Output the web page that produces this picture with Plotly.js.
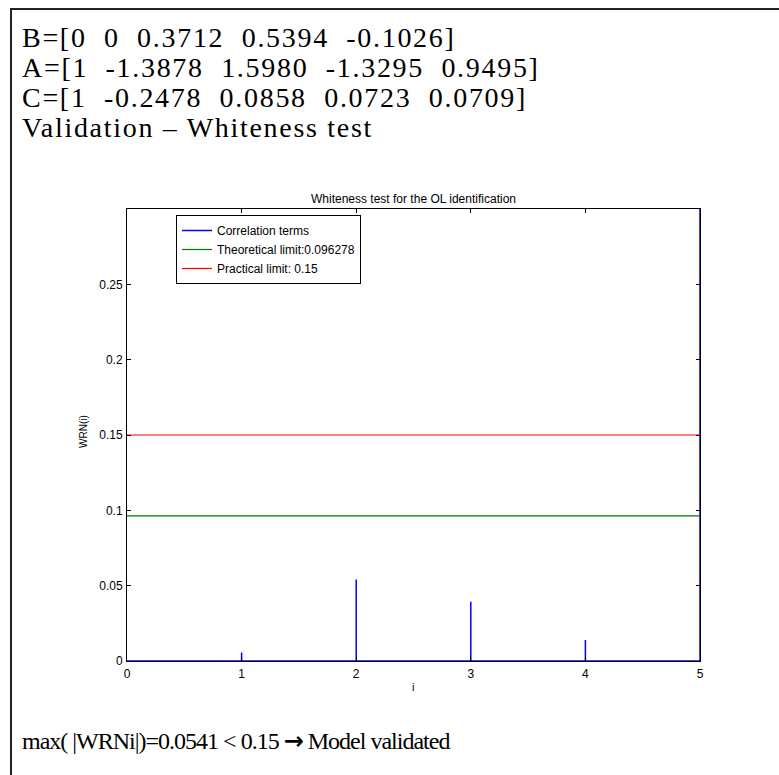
<!DOCTYPE html>
<html>
<head>
<meta charset="utf-8">
<script src="https://cdn.plot.ly/plotly-3.0.1.min.js"></script>
<style>
  html, body { margin: 0; padding: 0; background: #ffffff; }
  #chart { width: 779px; height: 775px; }
</style>
</head>
<body>
<div id="chart"></div>
<script>
// ---- data ----
const lags = [0, 1, 2, 3, 4, 5];
const wrn = [0, 0.0057, 0.0541, 0.0393, 0.0140, 1.0];
const theoreticalLimit = 0.096278;
const practicalLimit = 0.15;
const seriesNames = ["Correlation terms", "Theoretical limit:0.096278", "Practical limit: 0.15"];
const yTickVals = [0, 0.05, 0.1, 0.15, 0.2, 0.25];
const yTickText = ["0", "0.05", "0.1", "0.15", "0.2", "0.25"];
const xTickVals = [0, 1, 2, 3, 4, 5];
const headerLines = [
  "B=[0\u00a0\u00a00\u00a0\u00a00.3712\u00a0\u00a00.5394\u00a0\u00a0-0.1026]",
  "A=[1\u00a0\u00a0-1.3878\u00a0\u00a01.5980\u00a0\u00a0-1.3295\u00a0\u00a00.9495]",
  "C=[1\u00a0\u00a0-0.2478\u00a0\u00a00.0858\u00a0\u00a00.0723\u00a0\u00a00.0709]",
  "Validation \u2013 Whiteness test"
];
const footerParts = ["max(\u00a0|WRNi|)=0.0541 < 0.15 ", "\u2192", " Model validated"];
const chartTitle = "Whiteness test for the OL identification";
const xTitle = "i";
const yTitle = "WRN(i)";

// ---- geometry (pixels) ----
const W = 779, H = 775;
const L = 127, R = 700, T = 209, B = 661;
const px2x = p => (p - L) / (R - L);
const px2y = p => (B - p) / (B - T);

// stems built from the data: baseline -> value -> baseline
const stemX = [], stemY = [];
lags.forEach((k, i) => { stemX.push(k, k, k); stemY.push(0, wrn[i], 0); });

const xMin = lags[0], xMax = lags[lags.length - 1];

const traces = [
  { x: stemX, y: stemY, mode: "lines", name: seriesNames[0],
    line: { color: "#0000ff", width: 1.5 }, cliponaxis: true },
  { x: [xMin, xMax], y: [theoreticalLimit, theoreticalLimit], mode: "lines", name: seriesNames[1],
    line: { color: "#007a00", width: 1.2 } },
  { x: [xMin, xMax], y: [practicalLimit, practicalLimit], mode: "lines", name: seriesNames[2],
    line: { color: "#ff0000", width: 1.2 } }
];

const plotFont = "Liberation Sans, Arial, Helvetica, sans-serif";
const serif = "Liberation Serif, Times New Roman, serif";

const annotations = headerLines.map((t, i) => ({
  text: '<span style="letter-spacing:1.7px">' + t + '</span>',
  xref: "paper", yref: "paper",
  x: px2x(20), y: px2y(37 + 30 * i), xanchor: "left", yanchor: "middle",
  showarrow: false, font: { family: serif, size: 28, color: "#000" }
}));
annotations.push({
  text: '<span style="letter-spacing:-1px">' + footerParts[0] +
        '<span style="font-family:\'DejaVu Sans\';font-weight:bold">' + footerParts[1] + '</span>' +
        footerParts[2] + '</span>',
  xref: "paper", yref: "paper",
  x: px2x(20), y: px2y(741), xanchor: "left", yanchor: "middle",
  showarrow: false, font: { family: serif, size: 24, color: "#000" }
});
annotations.push({
  text: yTitle, xref: "paper", yref: "paper",
  x: px2x(83), y: px2y(432), xanchor: "center", yanchor: "middle", textangle: -90,
  showarrow: false, font: { family: plotFont, size: 10, color: "#000" }
});
annotations.push({
  text: xTitle, xref: "paper", yref: "paper",
  x: px2x(413), y: px2y(687), xanchor: "center", yanchor: "middle",
  showarrow: false, font: { family: plotFont, size: 11, color: "#000" }
});

const frameColor = "#222";
const shapes = [
  { type: "line", xref: "paper", yref: "paper", x0: px2x(11), x1: px2x(11), y0: px2y(9), y1: px2y(H + 5),
    line: { color: frameColor, width: 2 } },
  { type: "line", xref: "paper", yref: "paper", x0: px2x(10), x1: px2x(W + 5), y0: px2y(9), y1: px2y(9),
    line: { color: frameColor, width: 2 } }
];

const axisCommon = {
  showline: true, linecolor: "#000", linewidth: 1, mirror: "ticks",
  ticks: "inside", ticklen: 4, tickcolor: "#000", tickwidth: 1,
  showgrid: false, zeroline: false, fixedrange: true,
  tickfont: { family: plotFont, size: 12, color: "#000" }
};

const layout = {
  width: W, height: H,
  paper_bgcolor: "#ffffff", plot_bgcolor: "#ffffff",
  margin: { l: L, r: W - R, t: T, b: H - B, pad: 0 },
  title: { text: chartTitle, font: { family: plotFont, size: 12, color: "#000" },
           x: px2x(413.5), xref: "paper", xanchor: "center",
           y: 1 - 199 / H, yref: "container", yanchor: "middle" },
  xaxis: Object.assign({}, axisCommon, { range: [xMin, xMax], tickvals: xTickVals, ticklabelstandoff: 2 }),
  yaxis: Object.assign({}, axisCommon, { range: [0, 0.3], tickvals: yTickVals, ticktext: yTickText, ticklabelstandoff: 1 }),
  showlegend: true,
  legend: { x: px2x(176), y: px2y(215), xanchor: "left", yanchor: "top",
            bgcolor: "#ffffff", bordercolor: "#000", borderwidth: 1,
            font: { family: plotFont, size: 12, color: "#000" },
            tracegroupgap: 0, itemwidth: 30 },
  annotations: annotations,
  shapes: shapes
};

Plotly.newPlot("chart", traces, layout, { displayModeBar: false, staticPlot: true });
</script>
</body>
</html>
